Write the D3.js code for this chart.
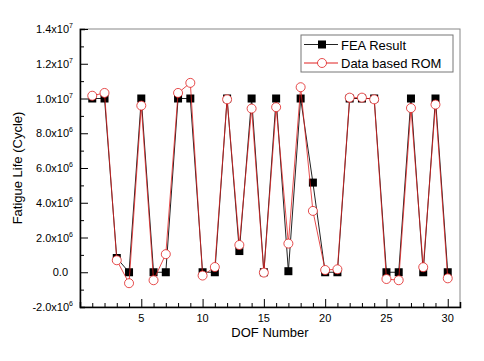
<!DOCTYPE html>
<html>
<head>
<meta charset="utf-8">
<script src="https://cdn.jsdelivr.net/npm/d3@7"></script>
<style>
  body { margin: 0; background: #fff; }
  text { font-family: "Liberation Sans", Arial, sans-serif; }
</style>
</head>
<body>
<svg id="chart" width="484" height="361"></svg>
<script>
// ---------------- data ----------------
var dof = d3.range(1, 31);
var feaResult = [10.0e6, 10.0e6, 0.82e6, 0, 10.0e6, 0, 0, 10.0e6, 10.0e6, 0,
                 0, 10.0e6, 1.22e6, 10.0e6, 0, 10.0e6, 0.06e6, 10.0e6, 5.16e6, 0,
                 0, 10.0e6, 10.0e6, 10.0e6, 0, 0, 10.0e6, 0, 10.0e6, 0];
var romResult = [10.16e6, 10.32e6, 0.69e6, -0.63e6, 9.59e6, -0.46e6, 1.04e6, 10.32e6, 10.9e6, -0.19e6,
                 0.3e6, 9.95e6, 1.57e6, 9.42e6, -0.02e6, 9.5e6, 1.65e6, 10.65e6, 3.53e6, 0.13e6,
                 0.17e6, 10.05e6, 10.05e6, 9.95e6, -0.39e6, -0.46e6, 9.45e6, 0.29e6, 9.65e6, -0.35e6];
var yTicks = [-2e6, 0, 2e6, 4e6, 6e6, 8e6, 10e6, 12e6, 14e6];
var xTicks = [5, 10, 15, 20, 25, 30];
var seriesNames = ["FEA Result", "Data based ROM"];

var pL = 80, pR = 460, pT = 29, pB = 307;

var svg = d3.select("#chart");

var x = d3.scaleLinear().domain([0, 31]).range([pL, pR]);
var y = d3.scaleLinear().domain([-2e6, 14e6]).range([pB, pT]);

// frame
svg.append("rect")
  .attr("x", pL).attr("y", pT)
  .attr("width", pR - pL).attr("height", pB - pT)
  .attr("fill", "none").attr("stroke", "#888").attr("stroke-width", 1);

// ---------------- axes ----------------
var xAxis = d3.axisBottom(x).tickValues(d3.range(1, 31)).tickSize(-5).tickFormat("");
var gx = svg.append("g").attr("transform", "translate(0," + pB + ")").call(xAxis);
gx.selectAll(".tick line").attr("stroke", "#000")
  .attr("y2", function(d) { return d % 5 == 0 ? -8 : -4; });
gx.select(".domain").attr("stroke", "#000").attr("stroke-width", 1.5);

gx.selectAll(".lbl")
  .data(xTicks)
  .enter().append("text")
  .attr("x", function(d) { return x(d); })
  .attr("y", 15)
  .attr("text-anchor", "middle")
  .style("font-size", "11px")
  .attr("fill", "#000")
  .text(function(d) { return d; });

var minorY = d3.range(-2e6, 14.1e6, 1e6);
var yAxis = d3.axisLeft(y).tickValues(minorY).tickSize(-5).tickFormat("");
var gy = svg.append("g").attr("transform", "translate(" + pL + ",0)").call(yAxis);
gy.selectAll(".tick line").attr("stroke", "#000")
  .attr("x2", function(d) { return Math.round(d / 1e6) % 2 == 0 ? 8 : 4; });
gy.select(".domain").attr("stroke", "#000").attr("stroke-width", 1.5);

// y tick labels with superscript exponents
var ylab = svg.selectAll(".ylab")
  .data(yTicks)
  .enter().append("text")
  .attr("class", "ylab")
  .attr("text-anchor", "end")
  .attr("x", function(d) { return d == 0 ? 68 : 73; })
  .attr("y", function(d) { return y(d) + 4; })
  .style("font-size", "11px")
  .attr("fill", "#000");

ylab.each(function(d) {
  var t = d3.select(this);
  if (d == 0) { t.text("0.0"); return; }
  var e = Math.floor(Math.log10(Math.abs(d)));
  var m = d / Math.pow(10, e);
  t.append("tspan").text(m.toFixed(1) + "x10");
  t.append("tspan").attr("dy", -5).style("font-size", "7px").text(e);
});

// axis titles
svg.append("text")
  .attr("transform", "translate(22," + ((pT + pB) / 2) + ") rotate(-90)")
  .attr("text-anchor", "middle")
  .style("font-size", "13px")
  .text("Fatigue Life (Cycle)");

svg.append("text")
  .attr("x", (pL + pR) / 2)
  .attr("y", 337)
  .attr("text-anchor", "middle")
  .style("font-size", "13px")
  .text("DOF Number");

// ---------------- series ----------------
var line = d3.line()
  .x(function(d) { return x(d[0]); })
  .y(function(d) { return y(d[1]); });

var feaPts = dof.map(function(d, i) { return [d, feaResult[i]]; });
var romPts = dof.map(function(d, i) { return [d, romResult[i]]; });

svg.append("path").datum(feaPts)
  .attr("d", line).attr("fill", "none").attr("stroke", "#222").attr("stroke-width", 1);

svg.selectAll(".sq").data(feaPts).enter().append("rect")
  .attr("x", function(d) { return x(d[0]) - 4; })
  .attr("y", function(d) { return y(d[1]) - 4; })
  .attr("width", 8).attr("height", 8)
  .attr("fill", "#000");

svg.append("path").datum(romPts)
  .attr("d", line).attr("fill", "none").attr("stroke", "#e02020").attr("stroke-width", 0.8);

svg.selectAll(".ci").data(romPts).enter().append("circle")
  .attr("cx", function(d) { return x(d[0]); })
  .attr("cy", function(d) { return y(d[1]); })
  .attr("r", 4.5)
  .attr("fill", "#fff").attr("stroke", "#e02020").attr("stroke-width", 0.8);

// ---------------- legend ----------------
var lg = svg.append("g");
lg.append("rect")
  .attr("x", 301).attr("y", 35).attr("width", 152).attr("height", 37)
  .attr("fill", "#fff").attr("stroke", "#777").attr("stroke-width", 1);

var items = lg.selectAll(".item").data(seriesNames).enter().append("g")
  .attr("transform", function(d, i) { return "translate(0," + (44.5 + i * 18.5) + ")"; });

items.append("line")
  .attr("x1", 304).attr("x2", 338).attr("y1", 0).attr("y2", 0)
  .attr("stroke", function(d, i) { return i == 0 ? "#222" : "#e02020"; })
  .attr("stroke-width", 1);

items.each(function(d, i) {
  var g = d3.select(this);
  if (i == 0) {
    g.append("rect").attr("x", 318).attr("y", -4).attr("width", 8).attr("height", 8).attr("fill", "#000");
  } else {
    g.append("circle").attr("cx", 322).attr("cy", 0).attr("r", 4.5)
      .attr("fill", "#fff").attr("stroke", "#e02020").attr("stroke-width", 0.8);
  }
});

items.append("text")
  .attr("x", 341).attr("y", 5)
  .style("font-size", "13px")
  .text(function(d) { return d; });
</script>
</body>
</html>
